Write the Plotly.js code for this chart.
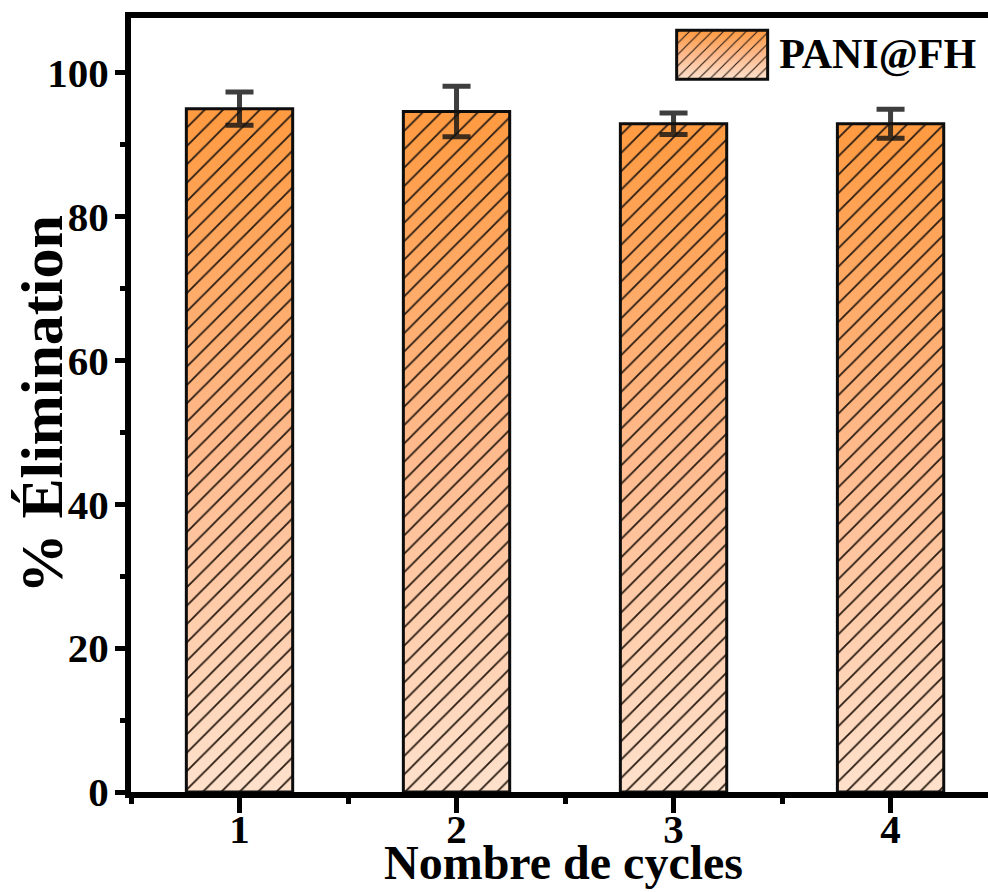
<!DOCTYPE html>
<html>
<head>
<meta charset="utf-8">
<script src="https://cdn.plot.ly/plotly-3.0.1.min.js"></script>
<style>
  html, body { margin: 0; padding: 0; background: #ffffff; overflow: hidden; }
  #chart { width: 988px; height: 892px; }
</style>
</head>
<body>
<div id="chart"></div>
<script>
// Removal efficiency over successive regeneration cycles
const cycles = [1, 2, 3, 4];
const cycleLabels = ['1', '2', '3', '4'];
const elimination = [95.0, 94.6, 92.9, 92.9];
const eliminationErr = [2.3, 3.5, 1.5, 2.0];
const seriesName = 'PANI@FH';
const yTicks = [0, 20, 40, 60, 80, 100];
const yMinorTicks = [10, 30, 50, 70, 90];
const xMinorTicks = [0.5, 1.5, 2.5, 3.5];

const serif = 'Liberation Serif, Times New Roman, serif';

const trace = {
  type: 'bar',
  name: seriesName,
  x: cycles,
  y: elimination,
  width: 0.49,
  marker: {
    color: '#ff9c45',
    line: { color: '#0d0d0d', width: 3 },
    pattern: { shape: '/', size: 13, solidity: 0.14, fgcolor: '#2a1c12', fillmode: 'replace' }
  },
  error_y: {
    type: 'data',
    array: eliminationErr,
    visible: true,
    color: 'rgba(20,20,20,0.82)',
    thickness: 5,
    width: 14
  },
  showlegend: true
};

const layout = {
  width: 988,
  height: 892,
  margin: { l: 131, r: 0, t: 18, b: 100, pad: 0 },
  paper_bgcolor: '#ffffff',
  plot_bgcolor: '#ffffff',
  font: { family: serif, color: '#000000', weight: 'bold' },
  showlegend: true,
  legend: {
    x: 0.992, xanchor: 'right',
    y: 1, yanchor: 'top',
    bgcolor: 'rgba(0,0,0,0)',
    borderwidth: 0,
    itemwidth: 100,
    font: { family: serif, size: 42, weight: 'bold', color: '#000000' }
  },
  xaxis: {
    range: [0.5, 4.449],
    tickmode: 'array',
    tickvals: cycles,
    ticktext: cycleLabels,
    showgrid: false,
    zeroline: false,
    showline: true,
    linewidth: 6,
    linecolor: '#000000',
    mirror: true,
    ticks: 'outside',
    ticklen: 15,
    tickwidth: 5,
    tickcolor: '#000000',
    ticklabelstandoff: -19,
    tickfont: { family: serif, size: 41, weight: 'bold', color: '#000000' },
    minor: { tickmode: 'array', tickvals: xMinorTicks, ticks: 'outside', ticklen: 6, tickwidth: 5, tickcolor: '#000000', showgrid: false }
  },
  yaxis: {
    range: [0, 107.6],
    tickmode: 'array',
    tickvals: yTicks,
    showgrid: false,
    zeroline: false,
    showline: true,
    linewidth: 6,
    linecolor: '#000000',
    mirror: false,
    ticks: 'outside',
    ticklen: 10,
    tickwidth: 5,
    tickcolor: '#000000',
    ticklabelstandoff: -2,
    tickfont: { family: serif, size: 41, weight: 'bold', color: '#000000' },
    minor: { tickmode: 'array', tickvals: yMinorTicks, ticks: 'outside', ticklen: 5, tickwidth: 5, tickcolor: '#000000', showgrid: false }
  },
  annotations: [
    {
      text: 'Nombre de cycles',
      xref: 'paper', yref: 'paper',
      x: 0.505, y: -0.0905,
      xanchor: 'center', yanchor: 'middle',
      showarrow: false,
      font: { family: serif, size: 48, weight: 'bold', color: '#000000' }
    },
    {
      text: '% Élimination',
      xref: 'paper', yref: 'paper',
      x: -0.1035, y: 0.501,
      xanchor: 'center', yanchor: 'middle',
      textangle: -90,
      showarrow: false,
      font: { family: serif, size: 60, weight: 'bold', color: '#000000' }
    }
  ]
};

const gd = document.getElementById('chart');

// Vertical orange-to-peach shading placed under the hatched bars and the legend key
function addShading(gd) {
  const NS = 'http://www.w3.org/2000/svg';
  const defs = gd.querySelector('svg.main-svg defs');
  const grad = document.createElementNS(NS, 'linearGradient');
  grad.setAttribute('id', 'barShade');
  grad.setAttribute('x1', '0'); grad.setAttribute('y1', '0');
  grad.setAttribute('x2', '0'); grad.setAttribute('y2', '1');
  [['0', '#ff9a40'], ['0.5', '#ffba8d'], ['1', '#fee1cc']].forEach(([off, col]) => {
    const s = document.createElementNS(NS, 'stop');
    s.setAttribute('offset', off);
    s.setAttribute('stop-color', col);
    grad.appendChild(s);
  });
  defs.appendChild(grad);

  // Legend key: a wide box to the left of the label
  const legText = gd.querySelector('.legend .legendtext');
  const legPath = gd.querySelector('.legend .legendpoints path');
  if (legText && legPath) {
    const tb = legText.getBBox();
    const x1 = tb.x - 11.5;
    const x0 = x1 - 91;
    const cy = tb.y + 23.6;
    const y0 = cy - 24.5, y1 = cy + 24.5;
    legPath.setAttribute('d', 'M' + x0 + ',' + y0 + 'H' + x1 + 'V' + y1 + 'H' + x0 + 'Z');
    legPath.removeAttribute('transform');
    legPath.style.strokeWidth = '3px';
    legPath.style.stroke = '#0d0d0d';
  }

  const targets = gd.querySelectorAll('.barlayer .point path, .legend .legendpoints path');
  targets.forEach(p => {
    const under = p.cloneNode(false);
    under.style.fill = 'url(#barShade)';
    under.style.stroke = 'none';
    p.parentNode.insertBefore(under, p);
  });
}

Plotly.newPlot(gd, [trace], layout, { staticPlot: true, displayModeBar: false }).then(addShading);
</script>
</body>
</html>
